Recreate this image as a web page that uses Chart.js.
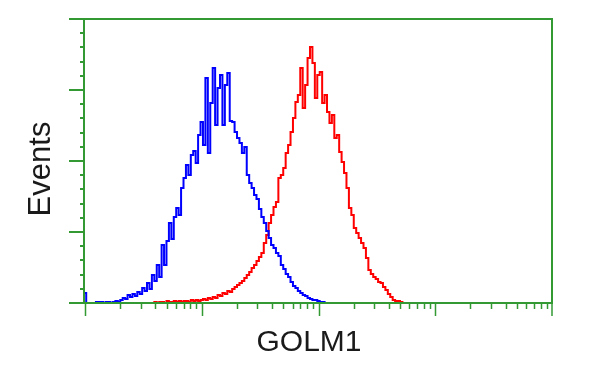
<!DOCTYPE html>
<html>
<head>
<meta charset="utf-8">
<script src="https://cdn.jsdelivr.net/npm/chart.js@4.4.1/dist/chart.umd.min.js"></script>
<style>
  html, body { margin: 0; padding: 0; background: #ffffff; }
  #wrap { width: 600px; height: 375px; position: relative; }
</style>
</head>
<body>
<div id="wrap"><canvas id="c" width="600" height="375"></canvas></div>
<script>
// ---- data ----
const xTitle = 'GOLM1';
const yTitle = 'Events';
const binsPerDecade = 48;
const xMin = 1;
const xMax = 10000;
const yMax = 284;
const yMinorTicks = 20;   // minor divisions on the Events axis
const yMajorEvery = 5;

const blueStartBin = 0;
const blueEvents = [
  10, 0, 0, 0, 0, 1, 1, 1, 0, 1,
  1, 0, 1, 2, 1, 3, 5, 4, 8, 6,
  9, 7, 11, 9, 15, 12, 20, 14, 28, 22,
  38, 26, 58, 38, 62, 80, 64, 86, 95, 88,
  115, 125, 138, 128, 148, 152, 140, 168, 181, 158,
  225, 150, 200, 235, 178, 215, 228, 178, 218, 230,
  182, 181, 171, 165, 160, 150, 156, 128, 120, 115,
  108, 104, 94, 86, 80, 72, 65, 58, 55, 50,
  47, 38, 34, 29, 26, 21, 17, 15, 12, 10,
  8, 7, 5, 4, 3, 3, 2, 1, 1, 0
];

const redStartBin = 28;
const redEvents = [
  0, 1, 0, 1, 1, 0, 2, 1, 1, 2,
  1, 2, 1, 2, 2, 1, 3, 2, 3, 2,
  3, 4, 3, 5, 4, 6, 5, 8, 7, 10,
  9, 12, 11, 14, 16, 18, 20, 22, 25, 28,
  31, 35, 38, 42, 46, 50, 60, 68, 80, 88,
  96, 101, 125, 128, 135, 150, 158, 171, 185, 201,
  208, 235, 195, 218, 245, 256, 240, 205, 228, 231,
  200, 208, 191, 180, 188, 165, 168, 151, 141, 130,
  115, 95, 88, 75, 70, 65, 60, 55, 45, 33,
  29, 26, 24, 21, 20, 16, 13, 9, 6, 3,
  2, 2, 1, 0
];

// ---- build datasets ----
function toPoints(startBin, counts) {
  return counts.map((v, k) => ({ x: Math.pow(10, (startBin + k) / binsPerDecade), y: v }));
}

const frameColor = '#339933';

const axesPlugin = {
  id: 'cytoAxes',
  afterDraw(chart) {
    const ctx = chart.ctx;
    const xs = chart.scales.x, ys = chart.scales.y;
    const L = xs.getPixelForValue(xMin), R = xs.getPixelForValue(xMax);
    const T = ys.getPixelForValue(yMax), B = ys.getPixelForValue(0);
    ctx.save();
    ctx.strokeStyle = frameColor;
    ctx.lineWidth = 2;
    ctx.lineCap = 'butt';
    // frame verticals
    ctx.beginPath();
    ctx.moveTo(L - 1, T); ctx.lineTo(L - 1, B);
    ctx.moveTo(R, T - 1); ctx.lineTo(R, B + 1);
    ctx.stroke();
    // y ticks
    for (let k = 0; k <= yMinorTicks; k++) {
      const py = Math.round(ys.getPixelForValue(k * yMax / yMinorTicks));
      const major = k % yMajorEvery === 0;
      ctx.beginPath();
      ctx.moveTo(L - 1 - (major ? 15 : 4), py);
      ctx.lineTo(L - 1, py);
      ctx.stroke();
    }
    // top and bottom lines
    ctx.beginPath();
    ctx.moveTo(L - 16, T); ctx.lineTo(R + 1, T);
    ctx.moveTo(L - 15, B); ctx.lineTo(R + 1, B);
    ctx.stroke();
    // x ticks (log decades with minor ticks)
    ctx.lineWidth = 1.5;
    for (let d = 1; d < xMax; d *= 10) {
      for (let m = 1; m <= 9; m++) {
        const v = m * d;
        const px = Math.round(xs.getPixelForValue(v)) + 0.5;
        const major = m === 1;
        ctx.beginPath();
        ctx.moveTo(px, B);
        ctx.lineTo(px, B + (major ? 13 : 6));
        ctx.stroke();
      }
    }
    const pxEnd = Math.round(xs.getPixelForValue(xMax));
    ctx.beginPath();
    ctx.moveTo(pxEnd, B); ctx.lineTo(pxEnd, B + 13);
    ctx.stroke();

    // titles
    ctx.fillStyle = '#1a1a1a';
    ctx.textAlign = 'center';
    ctx.textBaseline = 'middle';
    ctx.font = '30px "Liberation Sans", Arial, sans-serif';
    ctx.fillText(xTitle, 309, 343);
    ctx.translate(41, 169);
    ctx.rotate(-Math.PI / 2);
    ctx.font = '31px "Liberation Sans", Arial, sans-serif';
    ctx.fillText(yTitle, 0, 0);
    ctx.restore();
  }
};

new Chart(document.getElementById('c'), {
  type: 'line',
  data: {
    datasets: [
      {
        label: 'control',
        data: toPoints(blueStartBin, blueEvents),
        borderColor: '#0000ff',
        borderWidth: 2,
        pointRadius: 0,
        stepped: 'middle',
        fill: false
      },
      {
        label: 'GOLM1',
        data: toPoints(redStartBin, redEvents),
        borderColor: '#ff0000',
        borderWidth: 2,
        pointRadius: 0,
        stepped: 'middle',
        fill: false
      }
    ]
  },
  options: {
    responsive: false,
    animation: false,
    devicePixelRatio: 1,
    layout: { padding: { left: 85, right: 48, top: 19, bottom: 72 } },
    plugins: { legend: { display: false }, tooltip: { enabled: false } },
    scales: {
      x: { type: 'logarithmic', min: xMin, max: xMax, display: false },
      y: { type: 'linear', min: 0, max: yMax, display: false }
    }
  },
  plugins: [axesPlugin]
});
</script>
</body>
</html>
